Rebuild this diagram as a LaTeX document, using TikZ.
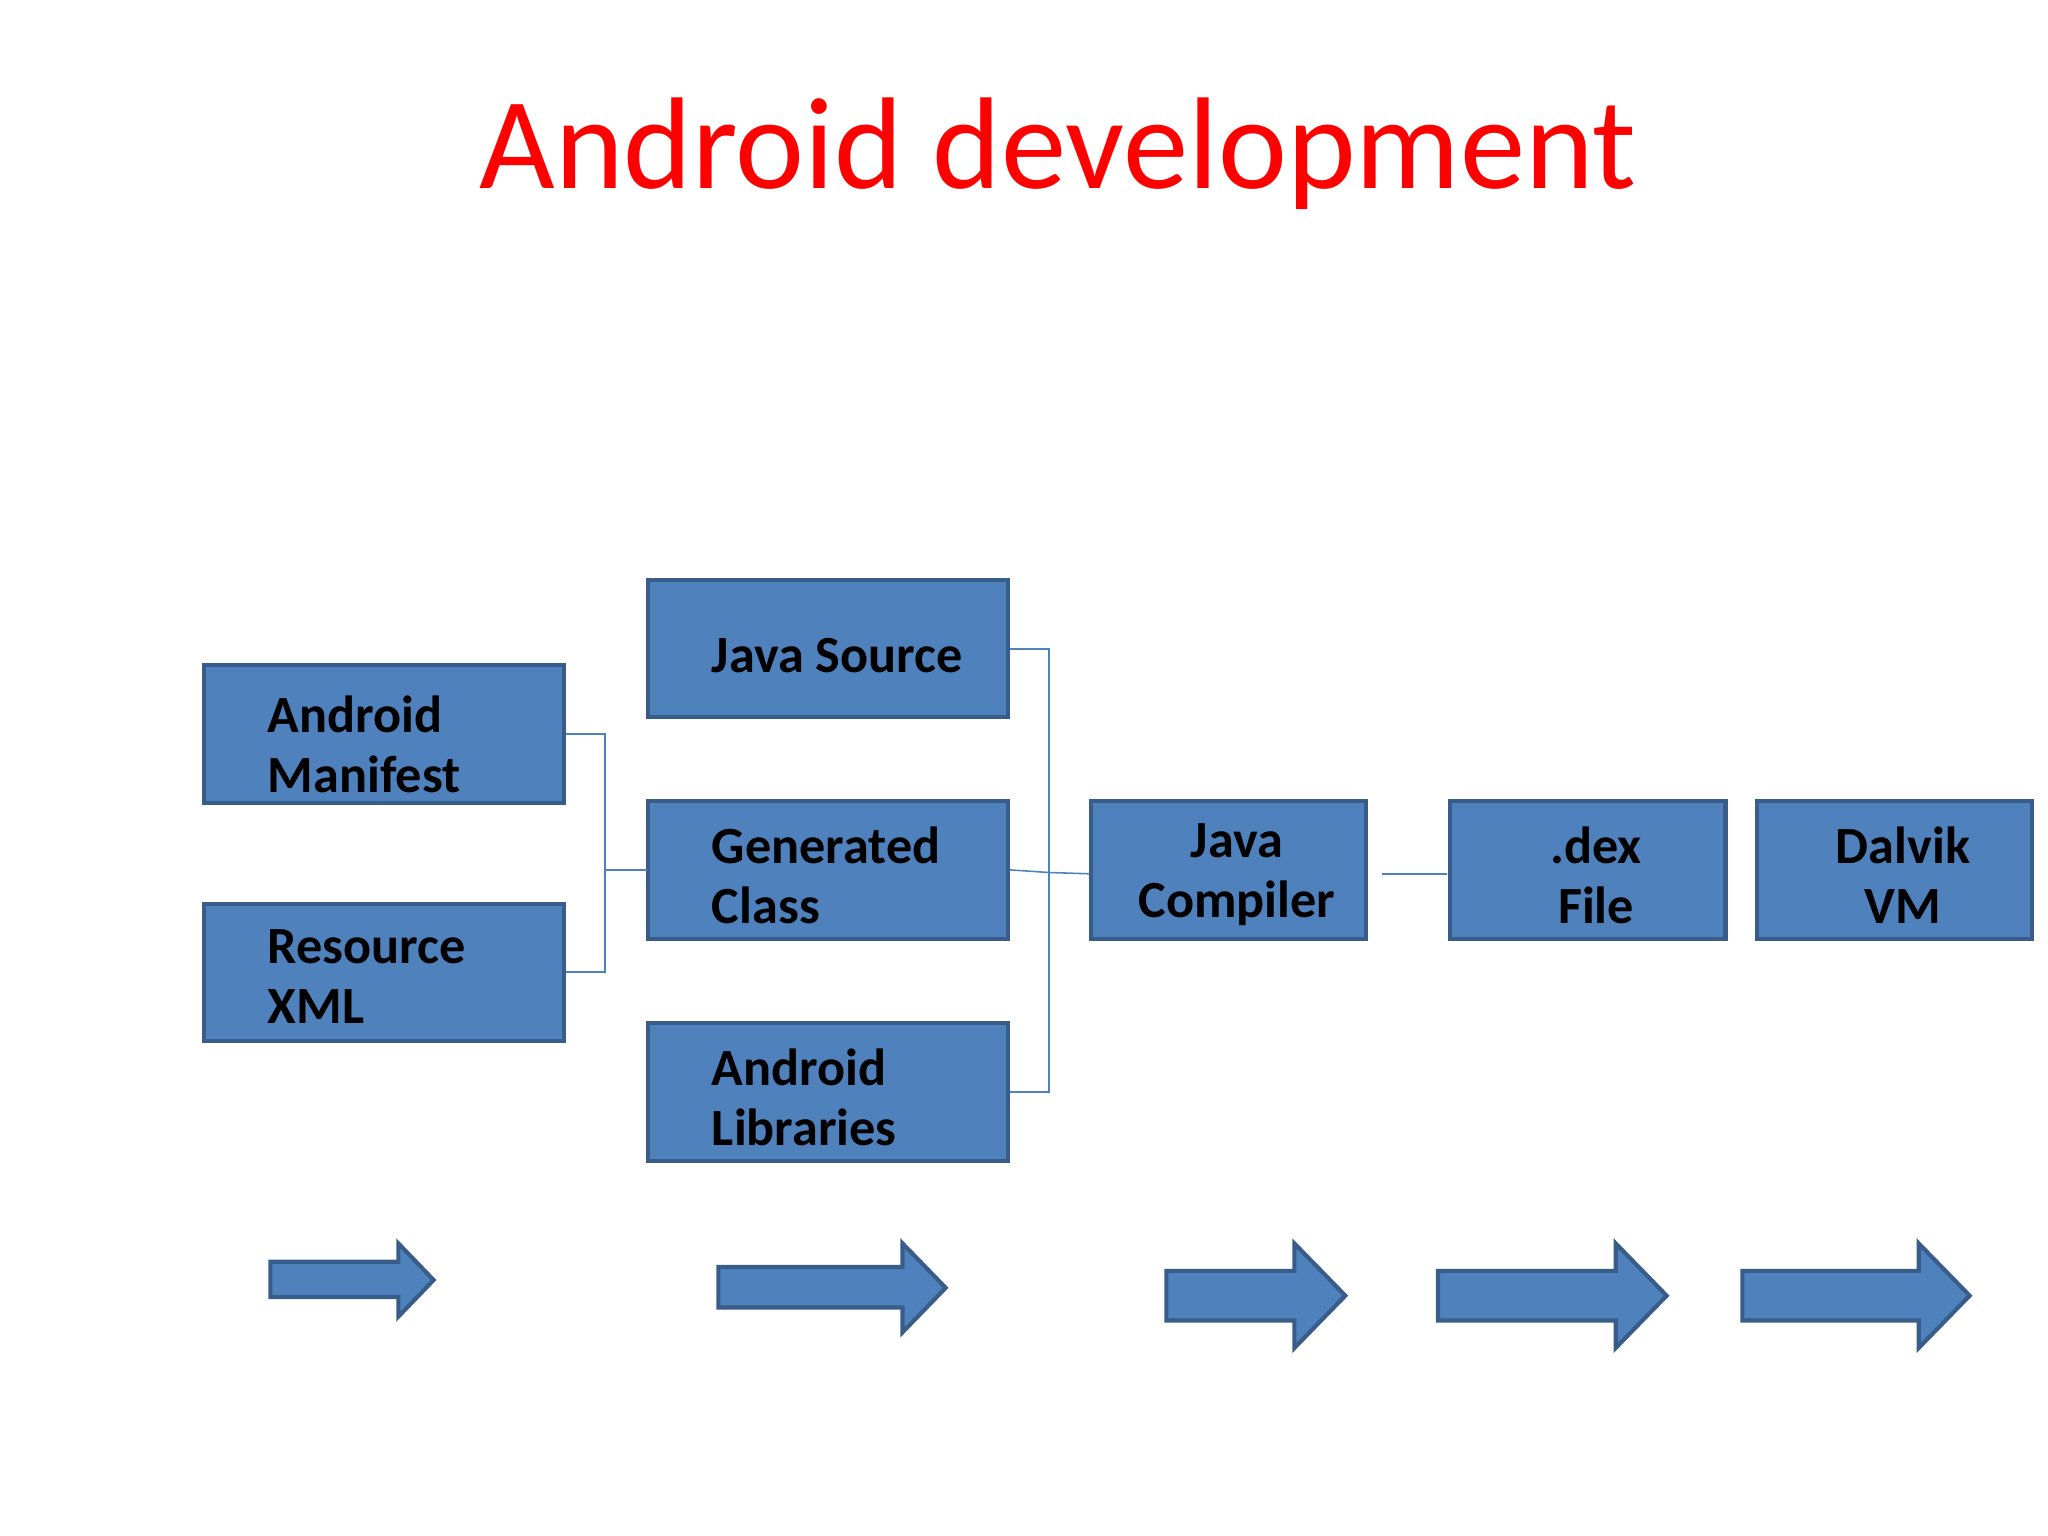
\documentclass[tikz,border=0pt]{standalone}
\usepackage{fontspec}
\setmainfont{Carlito}
\begin{document}
\begin{tikzpicture}[x=0.5pt,y=-0.5pt,
  box/.style={draw=blue!30!black!70!cyan!60!black, fill=bfill, line width=1.6pt},
  lbl/.style={font=\bfseries\fontsize{20}{23}\selectfont, align=left, anchor=west},
  clbl/.style={font=\bfseries\fontsize{20}{23}\selectfont, align=center},
  conn/.style={draw=bfill, line width=0.6pt},
  barrow/.style={draw=bedge, fill=bfill, line width=1.6pt, line join=miter}]
\definecolor{bfill}{HTML}{4F81BD}
\definecolor{bedge}{HTML}{385D8A}
\tikzset{box/.style={draw=bedge, fill=bfill, line width=1.6pt}}
\useasboundingbox (0,0) rectangle (1568,1176);
\node[font=\fontsize{50}{60}\selectfont, text=red] (title) at (810,118) {Android development};
% boxes
\draw[box] (156,509) rectangle (432,615); \coordinate (am) at (294,562);
\node[lbl] (amt) at (198,570) {Android\\Manifest};
\draw[box] (156,692) rectangle (432,797);
\node[lbl] (rxt) at (198,748) {Resource\\XML};
\draw[box] (496,444) rectangle (772,549);
\node[lbl] (jst) at (538,502) {Java Source};
\draw[box] (496,613) rectangle (772,719);
\node[lbl] (gct) at (538,670) {Generated\\Class};
\draw[box] (496,783) rectangle (772,889);
\node[lbl] (alt) at (538,840) {Android\\Libraries};
\draw[box] (835,613) rectangle (1046,719);
\node[clbl] (jct) at (947,670) {Java\\Compiler};
\draw[box] (1110,613) rectangle (1321,719);
\node[clbl] (dxt) at (1222,670) {.dex\\File};
\draw[box] (1345,613) rectangle (1556,719);
\node[clbl] (dvt) at (1457,670) {Dalvik\\VM};
% connectors
\coordinate (a1) at (433,562); \coordinate (a2) at (433,744);
\coordinate (m1) at (463,666); \coordinate (g1) at (495,666);
\draw[conn] (a1) -- (463,562) -- (463,744) -- (a2);
\draw[conn] (m1) -- (g1);
\coordinate (j1) at (773,497); \coordinate (l1) at (773,836);
\coordinate (g2) at (773,666); \coordinate (c1) at (834,669);
\draw[conn] (j1) -- (803,497) -- (803,836) -- (l1);
\draw[conn] (g2) -- (803,668) -- (c1);
\coordinate (c2) at (1058,669); \coordinate (d1) at (1108,669);
\draw[conn] (c2) -- (d1);
% block arrows
\draw[barrow] (207,966) -- (305,966) -- (305,952) -- (332,980) -- (305,1008) -- (305,993) -- (207,993) -- cycle;
\draw[barrow] (550,970) -- (691,970) -- (691,952) -- (724,986) -- (691,1020) -- (691,1001) -- (550,1001) -- cycle;
\draw[barrow] (893,973) -- (991,973) -- (991,952) -- (1030,992) -- (991,1032) -- (991,1011) -- (893,1011) -- cycle;
\draw[barrow] (1101,973) -- (1237,973) -- (1237,952) -- (1276,992) -- (1237,1032) -- (1237,1011) -- (1101,1011) -- cycle;
\draw[barrow] (1334,973) -- (1469,973) -- (1469,952) -- (1508,992) -- (1469,1032) -- (1469,1011) -- (1334,1011) -- cycle;
\end{tikzpicture}
\end{document}
